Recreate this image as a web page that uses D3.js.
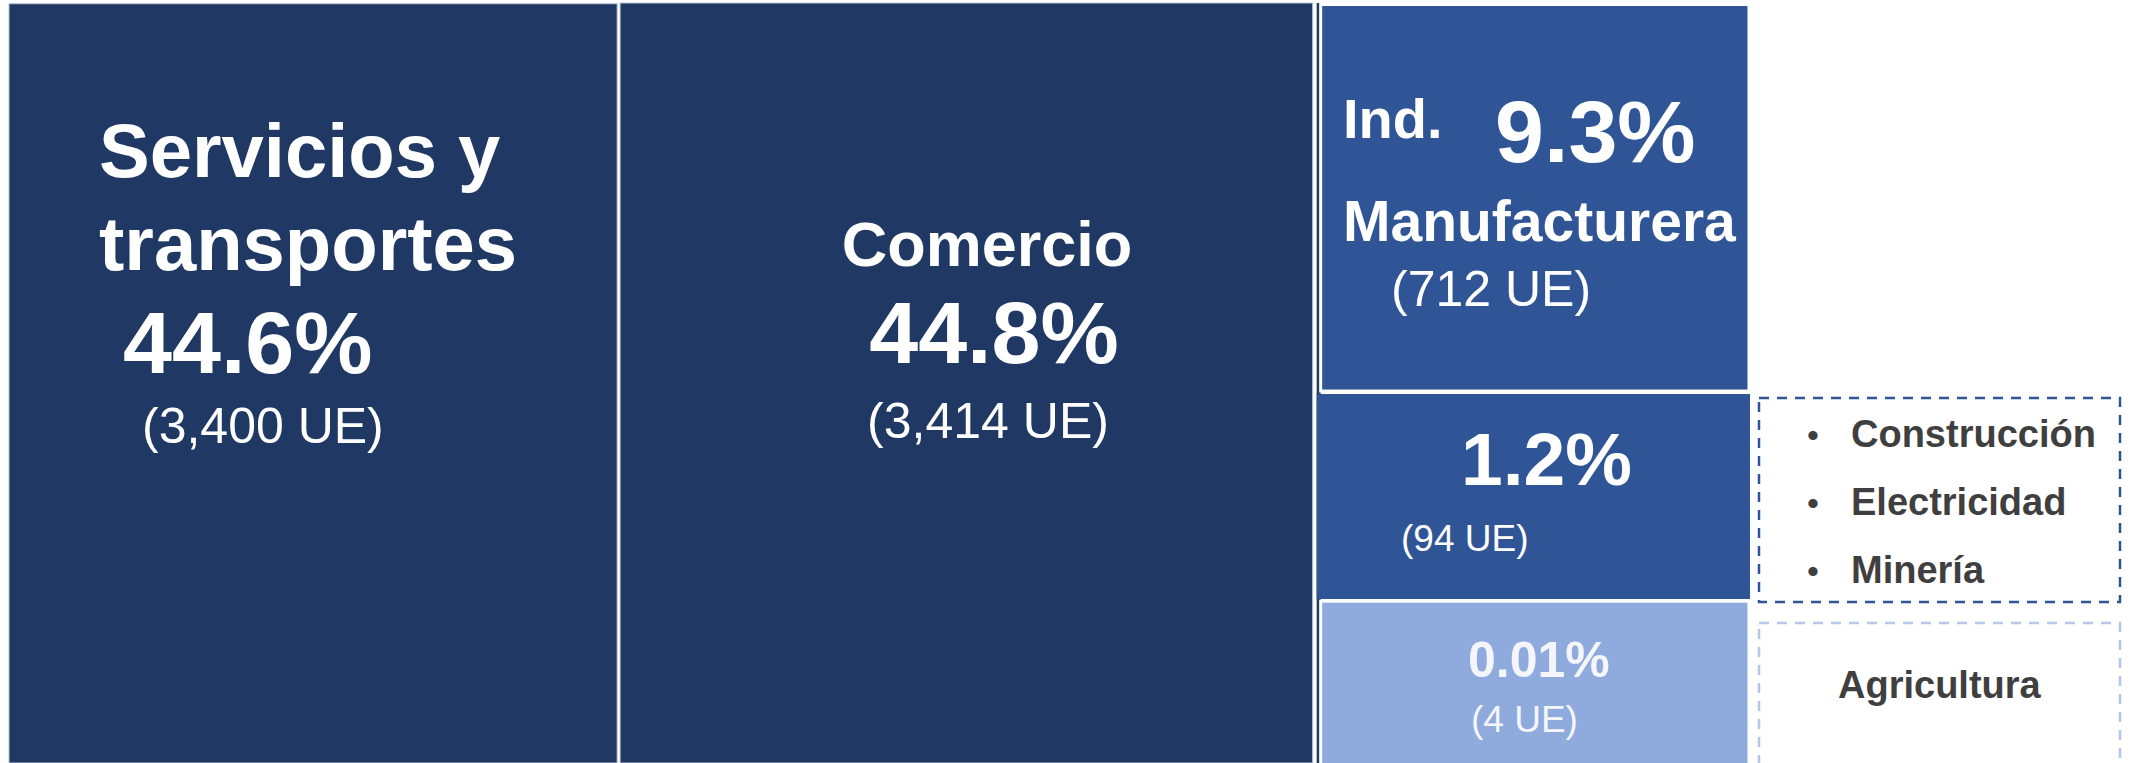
<!DOCTYPE html>
<html>
<head>
<meta charset="utf-8">
<script src="https://cdn.jsdelivr.net/npm/d3@7"></script>
<style>
  html, body { margin: 0; padding: 0; background: #fff; }
  svg { display: block; font-family: 'Liberation Sans', Arial, sans-serif; }
</style>
</head>
<body>
<svg id="chart"></svg>
<script>
// data
const sectors = ['Servicios y transportes', 'Comercio', 'Ind. Manufacturera', 'Construcción, Electricidad, Minería', 'Agricultura'];
const units = [3400, 3414, 712, 94, 4];
const shares = [44.6, 44.8, 9.3, 1.2, 0.01];
const shareDigits = [1, 1, 1, 1, 2];
const groupItems = ['Construcción', 'Electricidad', 'Minería'];
const agriLabel = 'Agricultura';

const width = 2131;
const height = 763;

const colors = {
  dark: '#203864',
  mid: '#2f5597',
  light: '#8faadc',
  legendText: '#3f3f3f'
};

// the mosaic is hand laid out (not proportional), so cell geometry lives here
// as fractions of the chart area: [x0, x1, y0, y1]
const cellLayout = [
  [0, 0.3493, 0.001, 1],
  [0.3510, 0.7488, 0, 1],
  [0.7534, 0.9994, 0.002, 0.5106],
  [0.7511, 1, 0.5145, 0.7842],
  [0.7534, 0.9994, 0.7871, 1.003]
];
const cellFill = [colors.dark, colors.dark, colors.mid, colors.mid, colors.light];
const cellStroke = ['#b8c2d6', '#b8c2d6', '#ffffff', 'none', '#ffffff'];

const x = d3.scaleLinear().domain([0, 1]).range([9, 1750]);
const y = d3.scaleLinear().domain([0, 1]).range([3, 763]);

const fmtUnits = d3.format(',');
const shareText = i => `${ shares[i].toFixed(shareDigits[i]) }%`;
const unitText = i => `(${ fmtUnits(units[i]) } UE)`;

const data = sectors.map((name, i) => ({
  name,
  units: units[i],
  share: shares[i],
  box: cellLayout[i],
  fill: cellFill[i],
  stroke: cellStroke[i]
}));

const svg = d3.select('#chart')
  .attr('width', width)
  .attr('height', height);

svg.append('rect')
  .attr('width', width)
  .attr('height', height)
  .attr('fill', '#fff');

// thin navy strip the right column sits on
svg.append('rect')
  .attr('x', x(0.7511))
  .attr('y', y(0))
  .attr('width', 4)
  .attr('height', height)
  .attr('fill', colors.dark);

svg.append('g')
  .selectAll('rect')
  .data(data)
  .join('rect')
  .attr('x', d => x(d.box[0]))
  .attr('y', d => y(d.box[2]))
  .attr('width', d => x(d.box[1]) - x(d.box[0]))
  .attr('height', d => y(d.box[3]) - y(d.box[2]))
  .attr('fill', d => d.fill)
  .attr('stroke', d => d.stroke)
  .attr('stroke-width', (d, i) => i < 2 ? 1 : 3);

const labels = svg.append('g').attr('fill', '#fff');

const addText = (txt, tx, ty, size, bold, anchor = 'start', fill = null) => {
  const t = labels.append('text')
    .attr('x', tx)
    .attr('y', ty)
    .attr('font-size', size)
    .attr('font-weight', bold ? 'bold' : 'normal')
    .attr('text-anchor', anchor)
    .text(txt);

  if (fill) {
    t.attr('fill', fill);
  }

  return t;
};

// Servicios y transportes
addText('Servicios y', 99, 177, 76, true);
addText('transportes', 99, 270, 76, true);
addText(shareText(0), 123, 373, 88, true);
addText(unitText(0), 142, 443, 50, false);

// Comercio
addText(sectors[1], 987, 266, 63, true, 'middle');
addText(shareText(1), 994, 363, 88, true, 'middle');
addText(unitText(1), 988, 438, 50, false, 'middle');

// Ind. Manufacturera
addText('Ind.', 1343, 138, 56, true);
addText(shareText(2), 1495, 162, 88, true);
addText('Manufacturera', 1343, 241, 57, true);
addText(unitText(2), 1391, 306, 50, false);

// Construcción, Electricidad, Minería
addText(shareText(3), 1461, 485, 75, true);
addText(unitText(3), 1401, 551, 37, false);

// Agricultura
addText(shareText(4), 1468, 677, 50, true, 'start', '#f4f6fb');
addText(unitText(4), 1471, 732, 37, false, 'start', '#f4f6fb');

// dashed legend boxes
const legend = svg.append('g');

legend.append('rect')
  .attr('x', 1759)
  .attr('y', 398)
  .attr('width', 361)
  .attr('height', 204)
  .attr('fill', 'none')
  .attr('stroke', colors.mid)
  .attr('stroke-width', 2.5)
  .attr('stroke-dasharray', '10,8');

legend.append('rect')
  .attr('x', 1759)
  .attr('y', 623)
  .attr('width', 361)
  .attr('height', 160)
  .attr('fill', 'none')
  .attr('stroke', '#b4c7e7')
  .attr('stroke-width', 2.5)
  .attr('stroke-dasharray', '10,8');

const items = legend.selectAll('g.item')
  .data(groupItems)
  .join('g')
  .attr('class', 'item')
  .attr('transform', (d, i) => `translate(0,${ 447 + i * 68 })`);

items.append('text')
  .attr('x', 1807)
  .attr('font-size', 34)
  .attr('fill', colors.legendText)
  .text('•');

items.append('text')
  .attr('x', 1851)
  .attr('font-size', 38)
  .attr('font-weight', 'bold')
  .attr('fill', colors.legendText)
  .text(d => d);

legend.append('text')
  .attr('x', 1838)
  .attr('y', 698)
  .attr('font-size', 38)
  .attr('font-weight', 'bold')
  .attr('fill', colors.legendText)
  .text(agriLabel);
</script>
</body>
</html>
